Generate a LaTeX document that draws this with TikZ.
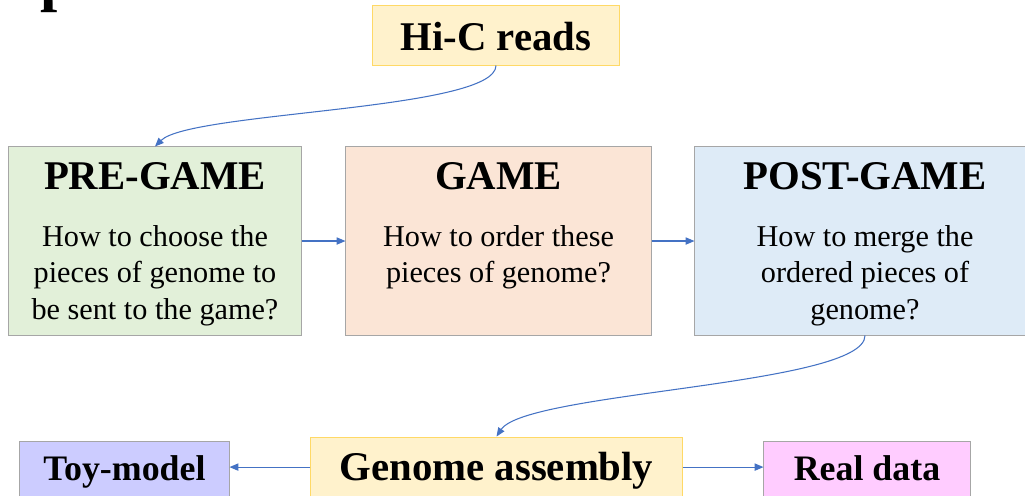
\documentclass[tikz,border=0pt]{standalone}
\usepackage{fontspec}
\setmainfont{Liberation Serif}
\usetikzlibrary{arrows.meta, calc}

\definecolor{linkblue}{HTML}{4472C4}
\definecolor{boxgray}{HTML}{A6A6A6}
\definecolor{goldline}{HTML}{FFD966}
\definecolor{paleyellow}{HTML}{FFF2CC}
\definecolor{palegreen}{HTML}{E2F0D9}
\definecolor{palepeach}{HTML}{FBE5D6}
\definecolor{paleblue}{HTML}{DEEBF7}
\definecolor{lavender}{HTML}{CCCCFF}
\definecolor{palepink}{HTML}{FFCCFF}

\tikzset{
    stagebox/.style={draw=boxgray, line width=0.7pt, inner sep=0, minimum height=4.7cm},
    endbox/.style={draw=boxgray, line width=0.7pt, inner sep=0, minimum height=1.475cm},
    inputbox/.style={draw=goldline, fill=paleyellow, line width=0.7pt, inner sep=0},
    flow/.style={draw=linkblue, line width=0.75pt, -{Triangle[length=2.2mm, width=1.8mm]}},
    headtext/.style={font=\fontsize{29}{34}\selectfont\bfseries, anchor=base, inner sep=0},
    endtext/.style={font=\fontsize{25.5}{30}\selectfont\bfseries, anchor=base, inner sep=0},
    bodytext/.style={font=\fontsize{21.5}{25.9}\selectfont, anchor=base, inner sep=0},
}

\begin{document}
\begin{tikzpicture}[x=0.025cm, y=-0.025cm]
    % Page frame
    \useasboundingbox (0,0) rectangle (1025,495);
    \fill[white] (0,0) rectangle (1025,495);

    % Cut-off slide title
    \node[font=\fontsize{44}{50}\selectfont\bfseries, anchor=base west, inner sep=0] (frag) at (40,-1) {p};

    % Input
    \node[inputbox, minimum width=6.15cm, minimum height=1.5cm] (hic) at (496,35) {};
    \node[headtext] (hictext) at ($(hic.center)+(0,15)$) {Hi-C reads};

    % The three stages
    \node[stagebox, fill=palegreen, minimum width=7.3cm] (pre) at (155,241) {};
    \node[stagebox, fill=palepeach, minimum width=7.625cm] (game) at (498.5,241) {};
    \node[stagebox, fill=paleblue, minimum width=8.5cm] (post) at (865,241) {};

    \node[headtext] (pretitle) at ($(pre.north)+(0,43)$) {PRE-GAME};
    \node[headtext] (gametitle) at ($(game.north)+(0,43)$) {GAME};
    \node[headtext] (posttitle) at ($(post.north)+(0,43)$) {POST-GAME};

    \node[bodytext] (prebody) at ($(pre.north)+(0,100)$)
        {\parbox[t]{7.5cm}{\centering How to choose the\\ pieces of genome to\\ be sent to the game?}};
    \node[bodytext] (gamebody) at ($(game.north)+(0,100)$)
        {\parbox[t]{7.5cm}{\centering How to order these\\ pieces of genome?}};
    \node[bodytext] (postbody) at ($(post.north)+(0,100)$)
        {\parbox[t]{7.5cm}{\centering How to merge the\\ ordered pieces of\\ genome?}};

    % Output
    \node[inputbox, minimum width=9.275cm, minimum height=1.575cm] (genome) at (496.5,468.5) {};
    \node[endbox, fill=lavender, minimum width=5.225cm] (toy) at (124.5,470.5) {};
    \node[endbox, fill=palepink, minimum width=5.15cm] (real) at (867,470.5) {};

    \node[headtext] (genometext) at ($(genome.center)+(0,11.5)$) {Genome assembly};
    \node[endtext] (toytext) at ($(toy.center)+(0,9.5)$) {Toy-model};
    \node[endtext] (realtext) at ($(real.center)+(0,9.5)$) {Real data};

    % Connectors
    \draw[flow] (hic.south) .. controls +(0,45) and +(35,-35) .. (pre.north);
    \draw[flow] (pre.east) -- (game.west);
    \draw[flow] (game.east) -- (post.west);
    \draw[flow] (post.south) .. controls +(0,50) and +(30,-45) .. (genome.north);
    \draw[flow] ([yshift=1pt]genome.west) -- ([yshift=1pt]genome.west -| toy.east);
    \draw[flow] ([yshift=1pt]genome.east) -- ([yshift=1pt]genome.east -| real.west);
\end{tikzpicture}
\end{document}
